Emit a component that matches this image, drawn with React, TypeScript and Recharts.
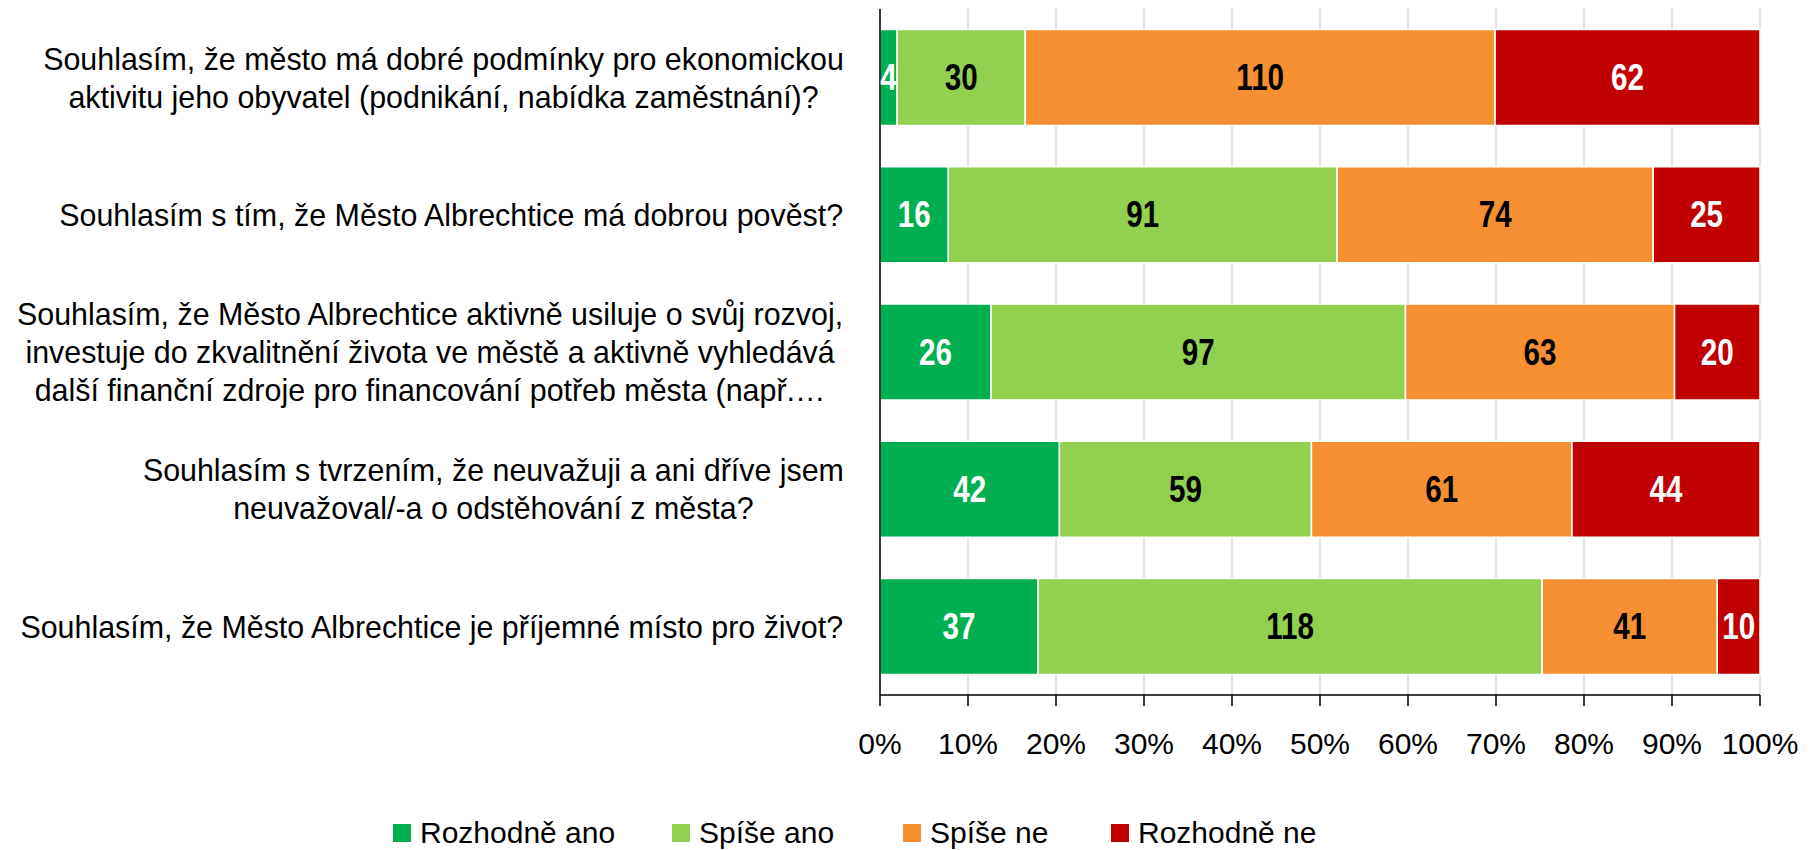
import { Bar, BarChart, CartesianGrid, LabelList, XAxis, YAxis } from "recharts";

const categories = [
  "Souhlasím, že město má dobré podmínky pro ekonomickou\naktivitu jeho obyvatel (podnikání, nabídka zaměstnání)?",
  "Souhlasím s tím, že Město Albrechtice má dobrou pověst?",
  "Souhlasím, že Město Albrechtice aktivně usiluje o svůj rozvoj,\ninvestuje do zkvalitnění života ve městě a aktivně vyhledává\ndalší finanční zdroje pro financování potřeb města (např.…",
  "Souhlasím s tvrzením, že neuvažuji a ani dříve jsem\nneuvažoval/-a o odstěhování z města?",
  "Souhlasím, že Město Albrechtice je příjemné místo pro život?",
];

const rozhodneAno = [4, 16, 26, 42, 37];
const spiseAno = [30, 91, 97, 59, 118];
const spiseNe = [110, 74, 63, 61, 41];
const rozhodneNe = [62, 25, 20, 44, 10];

const percentTicks = [0, 0.1, 0.2, 0.3, 0.4, 0.5, 0.6, 0.7, 0.8, 0.9, 1];
const bandTicks = [0, 1, 2, 3, 4, 5];

const series = [
  { key: "ra", name: "Rozhodně ano", color: "#00B050", label: "#fff" },
  { key: "sa", name: "Spíše ano", color: "#92D050", label: "#000" },
  { key: "sn", name: "Spíše ne", color: "#F69032", label: "#000" },
  { key: "rn", name: "Rozhodně ne", color: "#C00000", label: "#fff" },
];

// legend slot positions (Excel spreads the entries in fixed slots)
const legendLeft = [393, 672, 903, 1111];

const data = categories.map((name, i) => ({
  name,
  ra: rozhodneAno[i],
  sa: spiseAno[i],
  sn: spiseNe[i],
  rn: rozhodneNe[i],
}));

const FONT = "'Liberation Sans', Arial, sans-serif";
const CAT_SIZE = 32;
const CAT_SQUEEZE = 0.95;

let ctx: CanvasRenderingContext2D | null = null;
function measure(text: string) {
  if (!ctx) ctx = document.createElement("canvas").getContext("2d");
  if (!ctx) return text.length * 14;
  ctx.font = `${CAT_SIZE}px ${FONT}`;
  return ctx.measureText(text).width * CAT_SQUEEZE;
}

// Excel-style: block right aligned to the axis, lines centred inside it
function CategoryTick(props: any) {
  const { x, y, payload } = props;
  const lines: string[] = String(payload.value).split("\n");
  const w = Math.max(...lines.map(measure));
  const cx = x - w / 2;
  const lh = 38;
  const y0 = y - ((lines.length - 1) * lh) / 2;
  return (
    <text
      transform={`translate(${cx},0) scale(${CAT_SQUEEZE},1)`}
      textAnchor="middle"
      fontFamily={FONT}
      fontSize={CAT_SIZE}
      fill="#000"
      dominantBaseline="central"
    >
      {lines.map((l, i) => (
        <tspan key={i} x={0} y={y0 + i * lh}>
          {l}
        </tspan>
      ))}
    </text>
  );
}

// narrow bold value labels (Arial Narrow look)
function makeValueLabel(fill: string) {
  return function ValueLabel(props: any) {
    const { x, y, width, height, value } = props;
    const cx = Number(x) + Number(width) / 2;
    const cy = Number(y) + Number(height) / 2;
    return (
      <text
        transform={`translate(${cx},${cy}) scale(0.8,1)`}
        textAnchor="middle"
        dominantBaseline="central"
        fontFamily={FONT}
        fontWeight="bold"
        fontSize={37}
        fill={fill}
      >
        {value}
      </text>
    );
  };
}

export default function App() {
  return (
    <div style={{ position: "absolute", left: 0, top: 0, width: 1817, height: 850 }}>
      <BarChart
        width={1817}
        height={850}
        data={data}
        layout="vertical"
        stackOffset="expand"
        barCategoryGap="15%"
        margin={{ top: 9, right: 57, bottom: 85, left: 0 }}
      >
        <CartesianGrid horizontal={false} stroke="#D9D9D9" strokeWidth={1.5} yAxisId="cat" />
        <XAxis
          type="number"
          domain={[0, 1]}
          ticks={percentTicks}
          tickFormatter={(v: number) => `${Math.round(v * 100)}%`}
          axisLine={{ stroke: "#000", strokeWidth: 1.5 }}
          tickLine={{ stroke: "#000", strokeWidth: 1.5 }}
          tickSize={11}
          tickMargin={27}
          height={70}
          interval={0}
          tick={{ fontFamily: FONT, fontSize: 30, fill: "#000" }}
        />
        <YAxis
          yAxisId="grid"
          type="number"
          domain={[0, 5]}
          ticks={bandTicks}
          allowDataOverflow
          width={0}
          tick={false}
          axisLine={false}
          tickLine={{ stroke: "#000", strokeWidth: 1.5 }}
          tickSize={12}
        />
        <YAxis
          yAxisId="cat"
          type="category"
          dataKey="name"
          width={880}
          interval={0}
          tickLine={false}
          tickSize={0}
          tickMargin={36}
          axisLine={{ stroke: "#000", strokeWidth: 1.5 }}
          tick={<CategoryTick />}
        />
        {series.map((s) => (
          <Bar
            key={s.key}
            yAxisId="cat"
            dataKey={s.key}
            name={s.name}
            stackId="a"
            fill={s.color}
            stroke="#fff"
            strokeWidth={1.5}
            isAnimationActive={false}
          >
            <LabelList dataKey={s.key} content={makeValueLabel(s.label)} />
          </Bar>
        ))}
      </BarChart>
      {series.map((s, i) => (
        <div
          key={s.key}
          style={{
            position: "absolute",
            left: legendLeft[i],
            top: 816,
            display: "flex",
            alignItems: "center",
            fontFamily: FONT,
            fontSize: 30,
            lineHeight: "34px",
            color: "#000",
            whiteSpace: "nowrap",
          }}
        >
          <span
            style={{ width: 18, height: 18, background: s.color, marginRight: 9, display: "inline-block" }}
          />
          <span>{s.name}</span>
        </div>
      ))}
    </div>
  );
}
